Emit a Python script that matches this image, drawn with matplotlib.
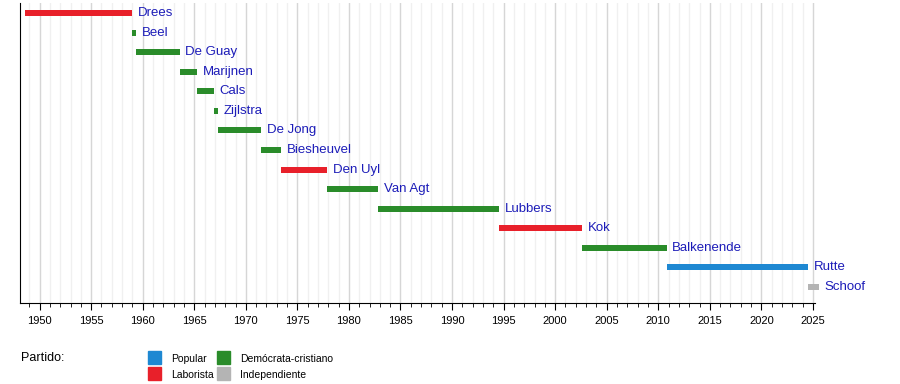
import matplotlib
matplotlib.use('Agg')
import matplotlib.pyplot as plt
from matplotlib.patches import Rectangle
from matplotlib.ticker import MultipleLocator

plt.rcParams['font.family'] = ['Liberation Sans', 'DejaVu Sans']

# primeros ministros de los Países Bajos
nombres = ['Drees', 'Beel', 'De Guay', 'Marijnen', 'Cals', 'Zijlstra', 'De Jong',
           'Biesheuvel', 'Den Uyl', 'Van Agt', 'Lubbers', 'Kok', 'Balkenende',
           'Rutte', 'Schoof']
inicio = [1948.6, 1958.95, 1959.35, 1963.6, 1965.25, 1966.9, 1967.3,
          1971.5, 1973.4, 1977.9, 1982.85, 1994.6, 2002.6, 2010.8, 2024.5]
fin = [1958.95, 1959.35, 1963.6, 1965.25, 1966.9, 1967.3, 1971.5,
       1973.4, 1977.9, 1982.85, 1994.6, 2002.6, 2010.8, 2024.5, 2025.6]
partido = ['Laborista', 'Demócrata-cristiano', 'Demócrata-cristiano',
           'Demócrata-cristiano', 'Demócrata-cristiano', 'Demócrata-cristiano',
           'Demócrata-cristiano', 'Demócrata-cristiano', 'Laborista',
           'Demócrata-cristiano', 'Demócrata-cristiano', 'Laborista',
           'Demócrata-cristiano', 'Popular', 'Independiente']

colores = {'Popular': '#1e88d2', 'Laborista': '#e8202a',
           'Demócrata-cristiano': '#2a8c2a', 'Independiente': '#b4b4b4'}
legend_order = ['Popular', 'Laborista', 'Demócrata-cristiano', 'Independiente']

fig = plt.figure(figsize=(9, 3.84), dpi=100)
ax = fig.add_axes([20 / 900, 81 / 384, 795 / 900, 300 / 384])

for i, (n, a, b, p) in enumerate(zip(nombres, inicio, fin, partido)):
    ax.barh(i, b - a, left=a, height=0.31, color=colores[p], clip_on=False, zorder=3)
    ax.text(b + 0.55, i, n, color='#1c1cb8', fontsize=9.5, va='center', ha='left', zorder=4)

ax.set_xlim(1948.1, 2025.2)
ax.set_ylim(len(nombres) - 1 + 0.82, -0.51)
ax.xaxis.set_major_locator(MultipleLocator(5))
ax.xaxis.set_minor_locator(MultipleLocator(1))
ax.grid(which='major', axis='x', color='#d6d6d6', linewidth=1, zorder=0)
ax.grid(which='minor', axis='x', color='#f0f0f0', linewidth=1, zorder=0)
ax.set_yticks([])
ax.spines['top'].set_visible(False)
ax.spines['right'].set_visible(False)
ax.tick_params(axis='x', which='major', length=5, labelsize=8, pad=4)
ax.tick_params(axis='x', which='minor', length=3)

# leyenda
fig.text(21 / 900, 1 - 358 / 384, 'Partido:', fontsize=9, va='center', ha='left')
pos = [(148, 351), (148, 367), (217, 351), (217, 367)]
for p, (x, y) in zip(legend_order, pos):
    fig.add_artist(Rectangle((x / 900, 1 - (y + 13) / 384), 13 / 900, 13 / 384,
                             color=colores[p], transform=fig.transFigure))
    fig.text((x + 23) / 900, 1 - (y + 8) / 384, p, fontsize=7.5, va='center', ha='left')

fig.savefig('out.png', dpi=100)
